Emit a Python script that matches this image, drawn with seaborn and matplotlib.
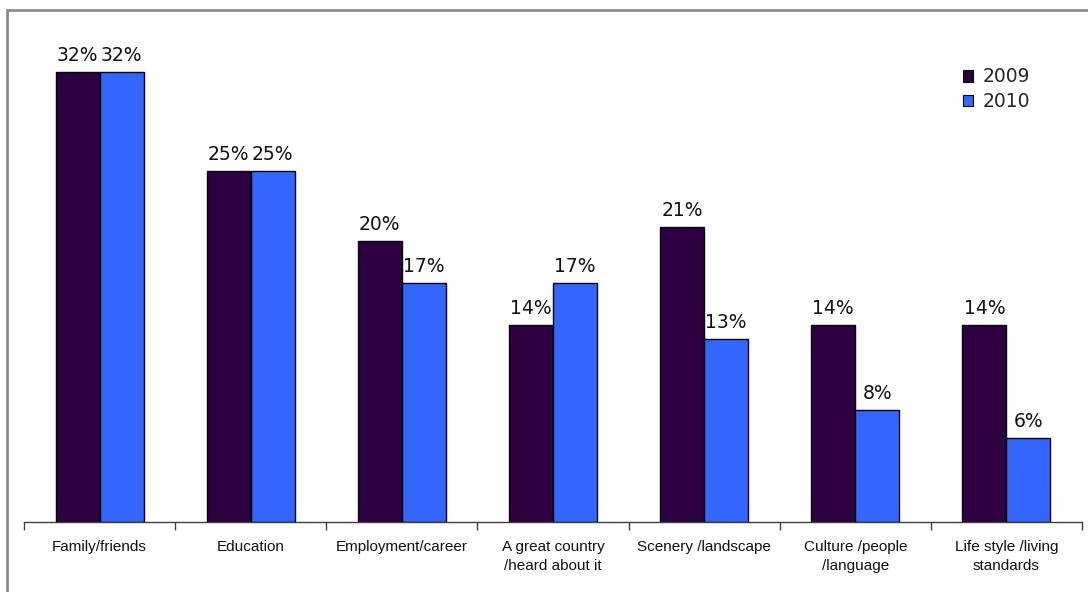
import matplotlib
matplotlib.use("Agg")
import matplotlib.pyplot as plt
import matplotlib.patches as mpatches
import seaborn as sns
import pandas as pd

categories = [
    "Family/friends",
    "Education",
    "Employment/career",
    "A great country\n/heard about it",
    "Scenery /landscape",
    "Culture /people\n/language",
    "Life style /living\nstandards",
]
years = ["2009", "2010"]
values_2009 = [32, 25, 20, 14, 21, 14, 14]
values_2010 = [32, 25, 17, 17, 13, 8, 6]
colors = {"2009": "#2E0042", "2010": "#3366FF"}

df = pd.DataFrame({
    "category": categories * 2,
    "year": [years[0]] * len(categories) + [years[1]] * len(categories),
    "value": values_2009 + values_2010,
})

sns.set_theme(style="white")
plt.rcParams["font.family"] = ["DejaVu Sans"]

fig = plt.figure(figsize=(10.88, 5.92), dpi=100)
W, H = 1088, 592

# outer frame of the chart area
frame = mpatches.Rectangle((7 / W, -0.1), 1.2, (592 - 10) / H + 0.1,
                           transform=fig.transFigure, fill=False,
                           edgecolor="#8C8C8C", linewidth=2)
fig.patches.append(frame)

ax = fig.add_axes([24 / W, (592 - 522) / H, (1082 - 24) / W, (522 - 16) / H])
sns.barplot(data=df, x="category", y="value", hue="year", order=categories,
            hue_order=years, palette=colors, width=0.582, saturation=1,
            edgecolor="black", linewidth=1, ax=ax)

ax.set_ylim(0, 36)
ax.set_xlim(-0.5, len(categories) - 0.5)
ax.set_xlabel("")
ax.set_ylabel("")
ax.set_yticks([])
for s in ["left", "top", "right"]:
    ax.spines[s].set_visible(False)
ax.spines["bottom"].set_color("#404040")
ax.spines["bottom"].set_linewidth(1)

ax.set_xticks(range(len(categories)))
ax.set_xticklabels(categories, family="Liberation Sans", fontsize=11,
                   color="#111111", linespacing=1.45)
ax.tick_params(axis="x", which="major", bottom=True, length=0, pad=13)
ax.set_xticks([i - 0.5 for i in range(len(categories) + 1)], minor=True)
ax.tick_params(axis="x", which="minor", bottom=True, length=6, width=1,
               color="#404040", direction="out")

for container, year in zip(ax.containers, years):
    vals = values_2009 if year == "2009" else values_2010
    ax.bar_label(container, labels=[f"{v}%" for v in vals], padding=5,
                 fontsize=13.5, color="#111111")

handles = [mpatches.Patch(facecolor=colors[y], edgecolor="black", linewidth=0.8,
                          label=y) for y in years]
leg = ax.legend(handles=handles, loc="upper left",
                bbox_to_anchor=((955 - 24) / (1082 - 24), (522 - 60) / (522 - 16)),
                frameon=False, fontsize=13.5, handlelength=0.55, handleheight=0.55,
                handletextpad=0.5, labelspacing=0.3, borderaxespad=0)

fig.savefig("out.png", dpi=100)
